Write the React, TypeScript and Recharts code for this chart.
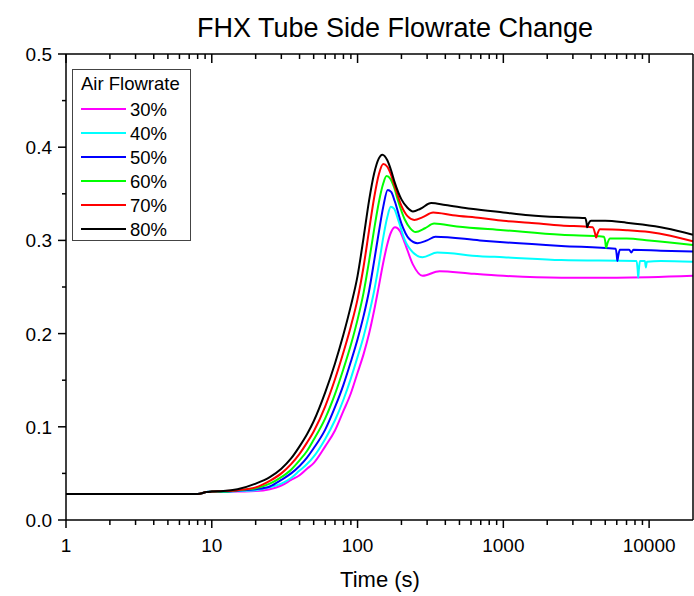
import { LineChart, Line, XAxis, YAxis } from 'recharts';

// [time (s), flowrate] pairs, one list per air flowrate
const flow30: [number, number][] = [
  [1, 0.028], [8, 0.028], [9.2, 0.03], [10, 0.0305], [12, 0.03], [15, 0.0305], [20, 0.031], [25, 0.033],
  [30, 0.037], [35, 0.043], [40, 0.048], [45, 0.055], [50, 0.061], [60, 0.079], [70, 0.096], [80, 0.117],
  [90, 0.136], [100, 0.158], [110, 0.178], [120, 0.2], [130, 0.225], [140, 0.251], [150, 0.276], [160, 0.296],
  [170, 0.309], [181, 0.314], [195, 0.31], [210, 0.298], [240, 0.274], [279, 0.262], [365, 0.267], [585, 0.2645],
  [1000, 0.262], [2500, 0.26], [6000, 0.26], [20000, 0.262],
];
const flow40: [number, number][] = [
  [1, 0.028], [8, 0.028], [9.2, 0.03], [10, 0.0305], [12, 0.03], [15, 0.031], [20, 0.032], [25, 0.035],
  [30, 0.039], [35, 0.045], [40, 0.053], [45, 0.06], [50, 0.068], [60, 0.087], [70, 0.107], [80, 0.129],
  [90, 0.152], [100, 0.175], [110, 0.197], [120, 0.221], [130, 0.246], [140, 0.274], [150, 0.303], [160, 0.325],
  [169, 0.336], [178, 0.334], [190, 0.322], [210, 0.301], [240, 0.287], [279, 0.282], [352, 0.287], [690, 0.283],
  [1000, 0.282], [2500, 0.279], [8200, 0.278], [8350, 0.268], [8420, 0.26], [8500, 0.268], [8650, 0.278],
  [9350, 0.278], [9500, 0.271], [9650, 0.277], [12000, 0.278], [20000, 0.277],
];
const flow50: [number, number][] = [
  [1, 0.028], [8, 0.028], [9.2, 0.03], [10, 0.0305], [12, 0.0305], [15, 0.0315], [20, 0.033], [25, 0.036],
  [30, 0.043], [35, 0.05], [40, 0.058], [45, 0.067], [50, 0.077], [60, 0.097], [70, 0.121], [80, 0.145],
  [90, 0.17], [100, 0.194], [110, 0.219], [120, 0.246], [130, 0.278], [140, 0.309], [150, 0.336], [161, 0.354],
  [170, 0.352], [180, 0.342], [200, 0.318], [225, 0.302], [258, 0.297], [300, 0.3], [342, 0.304], [690, 0.3],
  [1000, 0.298], [2500, 0.294], [5900, 0.291], [6000, 0.284], [6050, 0.278], [6150, 0.284], [6300, 0.29],
  [7300, 0.29], [7550, 0.287], [7800, 0.29], [12000, 0.289], [20000, 0.288],
];
const flow60: [number, number][] = [
  [1, 0.028], [8, 0.028], [9.2, 0.03], [10, 0.0305], [12, 0.0305], [15, 0.032], [20, 0.034], [25, 0.039],
  [30, 0.046], [35, 0.054], [40, 0.064], [45, 0.074], [50, 0.086], [60, 0.109], [70, 0.135], [80, 0.162],
  [90, 0.188], [100, 0.215], [110, 0.244], [120, 0.278], [130, 0.312], [140, 0.341], [150, 0.361], [158, 0.369],
  [168, 0.366], [178, 0.357], [190, 0.342], [210, 0.323], [230, 0.313], [250, 0.309], [290, 0.313], [335, 0.318],
  [480, 0.315], [1000, 0.311], [2500, 0.306], [4900, 0.304], [5000, 0.299], [5070, 0.292], [5180, 0.297],
  [5400, 0.302], [7000, 0.302], [10000, 0.3], [20000, 0.295],
];
const flow70: [number, number][] = [
  [1, 0.028], [8, 0.028], [9.2, 0.03], [10, 0.0305], [12, 0.031], [15, 0.032], [20, 0.035], [25, 0.042],
  [30, 0.05], [35, 0.06], [40, 0.071], [45, 0.083], [50, 0.095], [60, 0.122], [70, 0.151], [80, 0.18],
  [90, 0.208], [100, 0.237], [110, 0.272], [120, 0.311], [130, 0.346], [140, 0.371], [150, 0.382], [160, 0.379],
  [170, 0.37], [180, 0.358], [200, 0.337], [220, 0.326], [245, 0.322], [280, 0.325], [330, 0.33], [450, 0.327],
  [700, 0.324], [1000, 0.321], [1500, 0.319], [2500, 0.316], [4100, 0.314], [4250, 0.308], [4330, 0.303],
  [4420, 0.307], [4600, 0.312], [7000, 0.311], [10000, 0.309], [14000, 0.305], [20000, 0.299],
];
const flow80: [number, number][] = [
  [1, 0.028], [8, 0.028], [9.2, 0.03], [10, 0.0305], [12, 0.031], [15, 0.033], [20, 0.039], [25, 0.046],
  [30, 0.055], [35, 0.066], [40, 0.079], [45, 0.092], [50, 0.106], [60, 0.137], [70, 0.168], [80, 0.199],
  [90, 0.23], [100, 0.262], [110, 0.303], [120, 0.343], [130, 0.372], [140, 0.388], [148, 0.392], [160, 0.386],
  [170, 0.375], [180, 0.362], [200, 0.344], [220, 0.335], [240, 0.331], [270, 0.334], [320, 0.34], [400, 0.338],
  [600, 0.334], [1000, 0.33], [1500, 0.327], [2400, 0.325], [3650, 0.324], [3720, 0.319], [3760, 0.314],
  [3820, 0.317], [4000, 0.321], [5000, 0.321], [7000, 0.319], [9000, 0.317], [13000, 0.313], [20000, 0.306],
];

const seriesNames = ['30%', '40%', '50%', '60%', '70%', '80%'];
const seriesColors = ['#ff00ff', '#00ffff', '#0000ff', '#00ff00', '#ff0000', '#000000'];
const seriesData = [flow30, flow40, flow50, flow60, flow70, flow80];

const timeTicks = [1, 2, 3, 4, 5, 6, 7, 8, 9, 10, 20, 30, 40, 50, 60, 70, 80, 90, 100, 200, 300, 400, 500, 600, 700, 800, 900,
  1000, 2000, 3000, 4000, 5000, 6000, 7000, 8000, 9000, 10000];
const valueTicks = [0, 0.05, 0.1, 0.15, 0.2, 0.25, 0.3, 0.35, 0.4, 0.45, 0.5];

const FONT = '"Liberation Sans", Arial, sans-serif';

const isDecade = (v: number) => Math.abs(Math.log10(v) - Math.round(Math.log10(v))) < 1e-9;

const BottomTick = ({ x, y, payload }: any) => {
  const major = isDecade(payload.value);
  return (
    <g>
      <line x1={x} x2={x} y1={y} y2={y + (major ? 8 : 5)} stroke="#000" strokeWidth={1.5} />
      {major && (
        <text x={x} y={y + 32} textAnchor="middle" fontSize={19} fontFamily={FONT} fill="#000">
          {payload.value}
        </text>
      )}
    </g>
  );
};

const TopTick = ({ x, y, payload }: any) => {
  const major = isDecade(payload.value);
  return <line x1={x} x2={x} y1={y} y2={y + (major ? 9 : 5)} stroke="#000" strokeWidth={1.5} />;
};

const LeftTick = ({ x, y, payload }: any) => {
  const v = payload.value;
  const major = Math.abs(v * 10 - Math.round(v * 10)) < 1e-6;
  return (
    <g>
      <line x1={x - (major ? 8 : 4)} x2={x} y1={y} y2={y} stroke="#000" strokeWidth={1.5} />
      {major && (
        <text x={x - 14} y={y + 7} textAnchor="end" fontSize={19} fontFamily={FONT} fill="#000">
          {v.toFixed(1)}
        </text>
      )}
    </g>
  );
};

// legend box drawn over the plot, top-left corner
const LegendBox = () => (
  <svg width={119} height={172} style={{ position: 'absolute', left: 72, top: 69, pointerEvents: 'none' }}>
    <rect x={0.5} y={0.5} width={118} height={171} fill="#fff" stroke="#444" strokeWidth={1} />
    <text x={9} y={21} fontSize={18.5} fontFamily={FONT} fill="#000">Air Flowrate</text>
    {seriesNames.map((name, i) => (
      <g key={name}>
        <line x1={9} x2={54} y1={40 + i * 24} y2={40 + i * 24} stroke={seriesColors[i]} strokeWidth={2} />
        <text x={58} y={47 + i * 24} fontSize={18.5} fontFamily={FONT} fill="#000">{name}</text>
      </g>
    ))}
  </svg>
);

export default function App() {
  return (
    <div style={{ position: 'absolute', left: 0, top: 0, width: 694, height: 596, background: '#fff' }}>
      <LineChart width={694} height={596} margin={{ top: 53, right: 0, bottom: 36, left: 0 }}>
        <XAxis
          dataKey="t"
          type="number"
          scale="log"
          domain={[1, 20000]}
          allowDataOverflow
          ticks={timeTicks}
          interval={0}
          height={40}
          tickSize={0}
          tickMargin={0}
          tickLine={false}
          axisLine={{ stroke: '#000', strokeWidth: 1.5 }}
          tick={<BottomTick />}
        />
        <XAxis
          xAxisId="top"
          orientation="top"
          dataKey="t"
          type="number"
          scale="log"
          domain={[1, 20000]}
          allowDataOverflow
          ticks={timeTicks}
          interval={0}
          height={1}
          tickSize={0}
          tickMargin={0}
          tickLine={false}
          axisLine={{ stroke: '#000', strokeWidth: 1.5 }}
          tick={<TopTick />}
        />
        <YAxis
          type="number"
          domain={[0, 0.5]}
          ticks={valueTicks}
          interval={0}
          width={66}
          tickSize={0}
          tickMargin={0}
          tickLine={false}
          axisLine={{ stroke: '#000', strokeWidth: 1.5 }}
          tick={<LeftTick />}
        />
        <YAxis
          yAxisId="right"
          orientation="right"
          type="number"
          domain={[0, 0.5]}
          width={1}
          tick={false}
          tickLine={false}
          axisLine={{ stroke: '#000', strokeWidth: 1.5 }}
        />
        {seriesData.map((pts, i) => (
          <Line
            key={seriesNames[i]}
            name={seriesNames[i]}
            data={pts.map(([t, v]) => ({ t, v }))}
            dataKey="v"
            type="monotone"
            stroke={seriesColors[i]}
            strokeWidth={2}
            dot={false}
            isAnimationActive={false}
          />
        ))}
      </LineChart>
      <LegendBox />
      <svg width={694} height={596} style={{ position: 'absolute', left: 0, top: 0, pointerEvents: 'none' }}>
        <text x={395} y={37} textAnchor="middle" fontSize={27} fontFamily={FONT} fill="#000">
          FHX Tube Side Flowrate Change
        </text>
        <text x={380} y={587} textAnchor="middle" fontSize={22} fontFamily={FONT} fill="#000">
          Time (s)
        </text>
      </svg>
    </div>
  );
}
